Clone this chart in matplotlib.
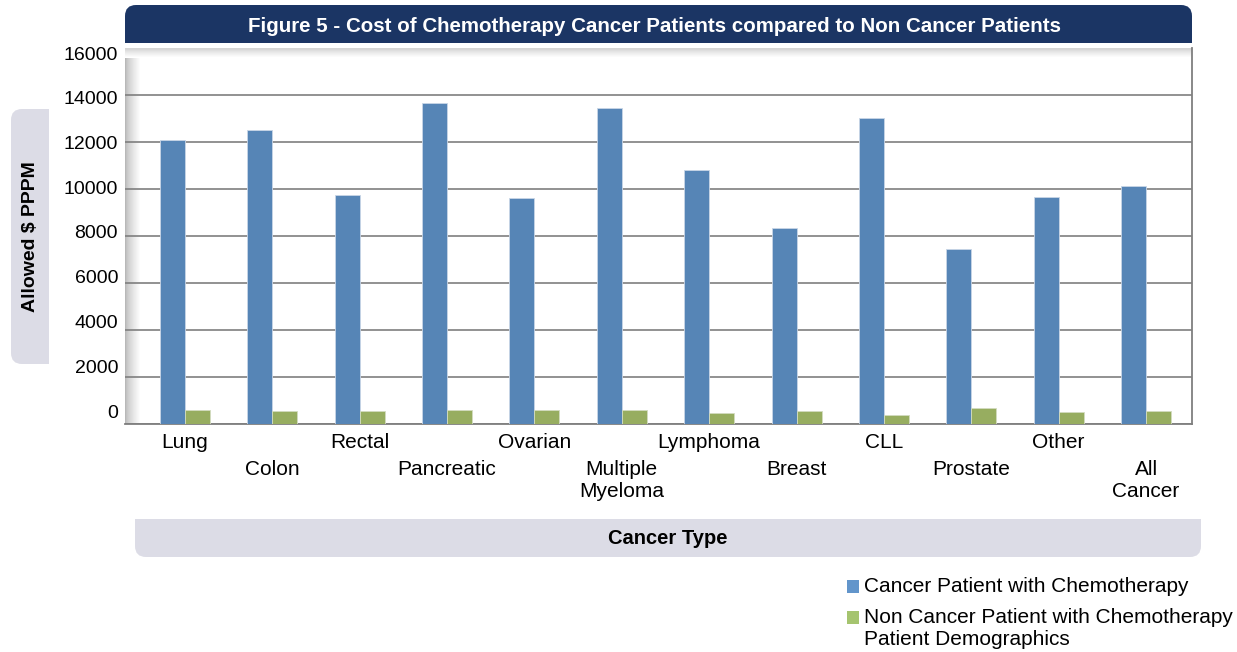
import matplotlib.pyplot as plt
from matplotlib.patches import FancyBboxPatch, Rectangle
from matplotlib.transforms import ScaledTranslation, blended_transform_factory
import numpy as np

# values (Allowed $ PPPM)
categories = ["Lung", "Colon", "Rectal", "Pancreatic", "Ovarian", "Multiple\nMyeloma",
              "Lymphoma", "Breast", "CLL", "Prostate", "Other", "All\nCancer"]
cancer_chemo = [12080, 12490, 9730, 13670, 9630, 13430, 10810, 8330, 13040, 7460, 9670, 10140]
non_cancer_chemo = [600, 550, 540, 600, 610, 600, 450, 550, 370, 680, 510, 550]
y_ticks = [0, 2000, 4000, 6000, 8000, 10000, 12000, 14000, 16000]
legend_labels = ["Cancer Patient with Chemotherapy",
                 "Non Cancer Patient with Chemotherapy\nPatient Demographics"]

title = "Figure 5 - Cost of Chemotherapy Cancer Patients compared to Non Cancer Patients"
ylabel = "Allowed $ PPPM"
xlabel = "Cancer Type"

blue = "#5685b6"
green = "#97ad60"
navy = "#1b3564"
pale = "#dcdce6"
gridc = "#7f7f7f"

plt.rcParams['font.family'] = ['Liberation Sans', 'DejaVu Sans']

W, H = 1237, 652
fig = plt.figure(figsize=(W / 100, H / 100), dpi=100)


def frac(x0, y0, x1, y1):
    # pixel box (top-left origin) -> figure fraction [l, b, w, h]
    return [x0 / W, 1 - y1 / H, (x1 - x0) / W, (y1 - y0) / H]


def half_round(x0, y0, x1, y1, color, square):
    # rounded box in inches, one side made square again
    X0, X1 = x0 / 100, x1 / 100
    Y0, Y1 = (H - y1) / 100, (H - y0) / 100
    w, h = X1 - X0, Y1 - Y0
    tr = fig.dpi_scale_trans
    fig.add_artist(FancyBboxPatch((X0, Y0), w, h, boxstyle="round,pad=0,rounding_size=0.11",
                                  transform=tr, fc=color, ec="none"))
    if square == "bottom":
        r = Rectangle((X0, Y0), w, h / 2)
    elif square == "top":
        r = Rectangle((X0, Y0 + h / 2), w, h / 2)
    else:
        r = Rectangle((X0 + w / 2, Y0), w / 2, h)
    r.set_transform(tr)
    r.set_facecolor(color)
    r.set_edgecolor("none")
    fig.add_artist(r)


# decorative boxes
half_round(125, 5, 1192, 43, navy, "bottom")
half_round(11, 109, 49, 364, pale, "right")
half_round(135, 519, 1201, 557, pale, "top")

ax = fig.add_axes(frac(125, 48, 1192, 424))

x = np.arange(len(categories))
w = 0.286
ax.bar(x - w / 2, cancer_chemo, w, color=blue, edgecolor="#c9d6e6", linewidth=0.6, zorder=3)
ax.bar(x + w / 2, non_cancer_chemo, w, color=green, edgecolor="#d3dcc0", linewidth=0.6, zorder=3)

ax.set_xlim(-0.686, 11.526)
ax.set_ylim(0, 16000)
ax.set_yticks(y_ticks)
ax.set_yticklabels([])
ax.set_xticks([])
ax.tick_params(axis="y", length=0)

# y labels: excel squeezes them a bit relative to the gridlines
ytr = blended_transform_factory(ax.transAxes, ax.transData)
for v in y_ticks:
    k = (16000 - v) / 2000
    dy = -(7 - 2.25 * k) * 0.72  # px -> points, downward
    off = ScaledTranslation(-7 / 100, dy / 72, fig.dpi_scale_trans)
    ax.text(0, v, str(v), transform=ytr + off, ha="right", va="center", fontsize=14)

ax.set_axisbelow(True)
ax.yaxis.grid(True, color=gridc, linewidth=1.2)
ax.get_ygridlines()[-1].set_color("#d8d8d8")

for s in ["left", "top"]:
    ax.spines[s].set_visible(False)
for s in ["right", "bottom"]:
    ax.spines[s].set_color(gridc)
    ax.spines[s].set_linewidth(1.3)

# soft shadow along left and top edge of the plot area
for i in range(16):
    g = 0.72 + 0.28 * (i / 15) ** 0.7
    ax.add_patch(Rectangle((i / 1067, 0), 1 / 1067, 1, transform=ax.transAxes,
                           color=(g, g, g), lw=0, zorder=0.1))
for i in range(10):
    g = 0.80 + 0.20 * (i / 9) ** 0.7
    ax.add_patch(Rectangle((0, 1 - (i + 1) / 376), 1, 1 / 376, transform=ax.transAxes,
                           color=(g, g, g), lw=0, zorder=0.2))

# staggered category labels
for i, lab in enumerate(categories):
    y = -0.024 if i % 2 == 0 else -0.096
    ax.text(x[i], y, lab, transform=ax.get_xaxis_transform(), ha="center", va="top",
            fontsize=15, linespacing=1.2, multialignment="center")

fig.text(654 / W, 1 - 27 / H, title, color="white", fontsize=14.8, fontweight="bold",
         ha="center", va="center")
fig.text(31 / W, 1 - 237 / H, ylabel, rotation=90, fontsize=14, fontweight="bold",
         ha="center", va="center")
fig.text(668 / W, 1 - 538 / H, xlabel, fontsize=14.5, fontweight="bold",
         ha="center", va="center")

# legend
tr = fig.dpi_scale_trans
for (y0, y1), c in zip([(580, 593), (611, 624)], ["#6295cb", "#a5c46f"]):
    fig.add_artist(Rectangle((847 / 100, (H - y1) / 100), 12 / 100, (y1 - y0) / 100,
                             transform=tr, fc=c, ec="none"))
fig.text(864 / W, 1 - 587 / H, legend_labels[0], fontsize=15, va="center")
fig.text(864 / W, 1 - 608 / H, legend_labels[1], fontsize=15, va="top", linespacing=1.2)

fig.savefig("out.png", dpi=100)
